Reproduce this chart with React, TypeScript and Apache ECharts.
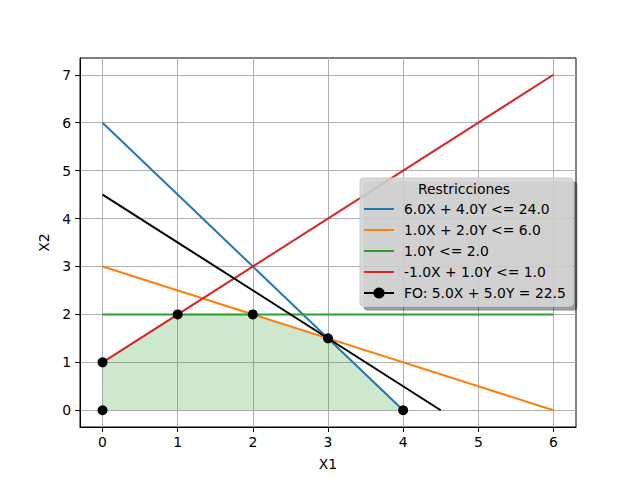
import React, { useEffect, useRef } from "react";
import * as echarts from "echarts";

const xTicks = [0, 1, 2, 3, 4, 5, 6];
const yTicks = [0, 1, 2, 3, 4, 5, 6, 7];

const names = [
  "6.0X + 4.0Y <= 24.0",
  "1.0X + 2.0Y <= 6.0",
  "1.0Y <= 2.0",
  "-1.0X + 1.0Y <= 1.0",
  "FO: 5.0X + 5.0Y = 22.5",
];
const colors = ["#1f77b4", "#ff7f0e", "#2ca02c", "#d62728", "#000000"];

const line1 = [[0, 6], [4, 0]];
const line2 = [[0, 3], [6, 0]];
const line3 = [[0, 2], [6, 2]];
const line4 = [[0, 1], [6, 7]];
const lineFO = [[0, 4.5], [4.5, 0]];
const vertices = [[0, 0], [0, 1], [1, 2], [2, 2], [3, 1.5], [4, 0]];
const regionTop = [[0, 1], [1, 2], [2, 2], [3, 1.5], [4, 0]];

const FONT = "DejaVu Sans";
const FS = 13.9;
const LINE_ICON = "path://M0,0H30V2H0Z";

export default function App() {
  const ref = useRef<HTMLDivElement>(null);
  useEffect(() => {
    const chart = echarts.init(ref.current!, undefined, { renderer: "svg" });
    const lines = [line1, line2, line3, line4];
    const series: any[] = [
      {
        type: "line",
        name: "region",
        data: regionTop,
        symbol: "none",
        lineStyle: { color: "rgba(44,160,44,0.3)", width: 1.5 },
        areaStyle: { color: "#2ca02c", opacity: 0.24, origin: 0 },
        z: 1,
        silent: true,
      },
      ...lines.map((d, i) => ({
        type: "line",
        name: names[i],
        data: d,
        symbol: "none",
        lineStyle: { color: colors[i], width: 2 },
        itemStyle: { color: colors[i] },
        z: 3,
      })),
      {
        type: "line",
        name: names[4],
        data: lineFO,
        symbol: "circle",
        symbolSize: 10,
        showSymbol: false,
        lineStyle: { color: "#000", width: 2 },
        itemStyle: { color: "#000" },
        z: 4,
      },
      {
        type: "scatter",
        name: "vertices",
        data: vertices,
        symbol: "circle",
        symbolSize: 10,
        itemStyle: { color: "#000", opacity: 1 },
        z: 5,
      },
    ];
    chart.setOption({
      animation: false,
      backgroundColor: "#fff",
      textStyle: { fontFamily: FONT },
      grid: {
        left: 80,
        right: 64,
        top: 58,
        bottom: 53,
        show: true,
        borderColor: "#000",
        borderWidth: 1,
        backgroundColor: "transparent",
      },
      xAxis: {
        type: "value",
        min: -0.3,
        max: 6.3,
        name: "X1",
        nameLocation: "middle",
        nameGap: 30,
        nameTextStyle: { color: "#000", fontSize: FS, fontFamily: FONT },
        axisLine: { show: true, onZero: false, lineStyle: { color: "#000", width: 1 } },
        axisTick: { show: true, inside: false, length: 5, customValues: xTicks, lineStyle: { color: "#000" } },
        axisLabel: { customValues: xTicks, color: "#000", fontSize: FS, margin: 8, fontFamily: FONT },
        splitLine: { show: true, lineStyle: { color: "#b0b0b0", width: 1 } },
      },
      yAxis: {
        type: "value",
        min: -0.35,
        max: 7.35,
        name: "X2",
        nameLocation: "middle",
        nameGap: 27,
        nameTextStyle: { color: "#000", fontSize: FS, fontFamily: FONT },
        axisLine: { show: true, onZero: false, lineStyle: { color: "#000", width: 1 } },
        axisTick: { show: true, inside: false, length: 5, customValues: yTicks, lineStyle: { color: "#000" } },
        axisLabel: { customValues: yTicks, color: "#000", fontSize: FS, margin: 9, fontFamily: FONT },
        splitLine: { show: true, lineStyle: { color: "#b0b0b0", width: 1 } },
      },
      legend: {
        data: [
          ...names.slice(0, 4).map((n) => ({ name: n, icon: LINE_ICON })),
          { name: names[4] },
        ],
        orient: "vertical",
        left: 360,
        top: 178,
        padding: [24, 7, 6, 3],
        itemGap: 7,
        itemWidth: 30,
        itemHeight: 14,
        backgroundColor: "rgba(210,210,210,0.85)",
        borderColor: "#cccccc",
        borderWidth: 1,
        borderRadius: 3,
        shadowColor: "rgba(0,0,0,0.45)",
        shadowBlur: 0,
        shadowOffsetX: 4,
        shadowOffsetY: 4,
        textStyle: { color: "#000", fontSize: FS, fontFamily: FONT, padding: [0, 0, 0, 5] },
        selectedMode: false,
      },
      graphic: [
        {
          type: "text",
          left: 418,
          top: 182,
          z: 100,
          style: { text: "Restricciones", fill: "#000", font: `${FS}px "${FONT}"` },
        },
      ],
      series,
    });
    return () => chart.dispose();
  }, []);
  return (
    <div
      ref={ref}
      style={{ position: "absolute", left: 0, top: 0, width: 640, height: 480 }}
    />
  );
}
